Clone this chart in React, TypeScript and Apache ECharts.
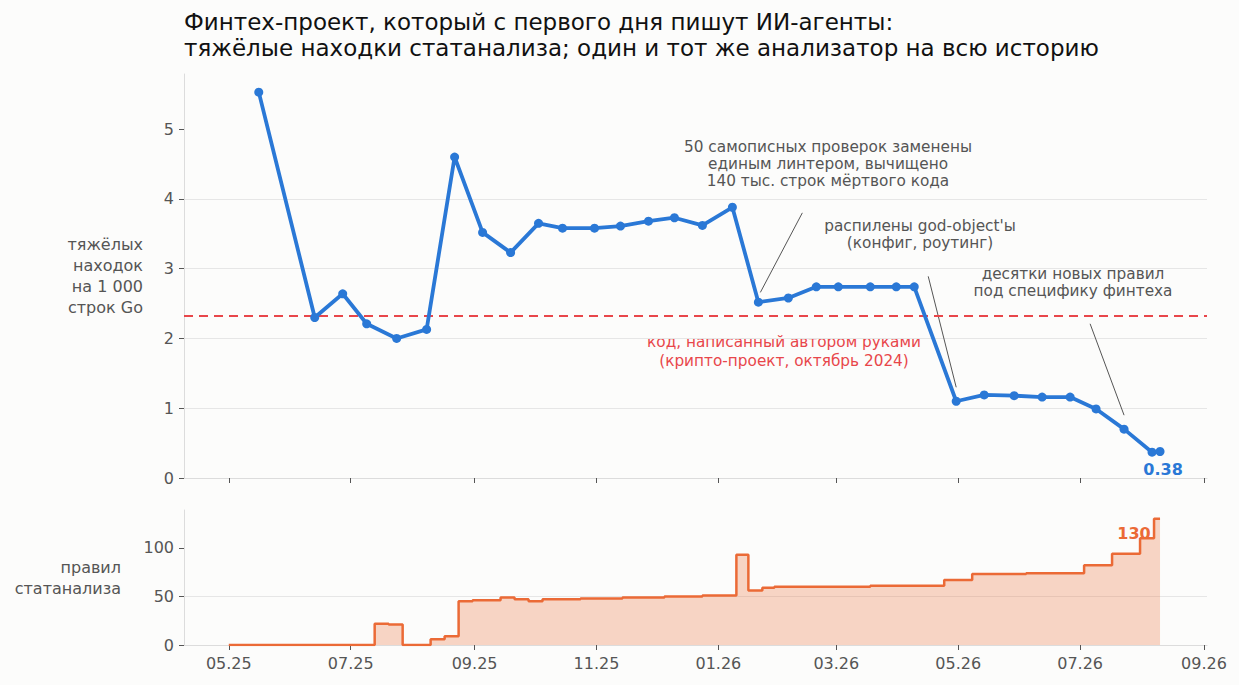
import React, { useEffect, useRef } from 'react';
import * as echarts from 'echarts';

// --- data ---
const tickLabels = ['05.25', '07.25', '09.25', '11.25', '01.26', '03.26', '05.26', '07.26', '09.26'];

const findingDates = [
  '2025-05-16', '2025-06-13', '2025-06-27', '2025-07-09', '2025-07-24', '2025-08-08',
  '2025-08-22', '2025-09-05', '2025-09-19', '2025-10-03', '2025-10-15', '2025-10-31',
  '2025-11-13', '2025-11-27', '2025-12-10', '2025-12-24', '2026-01-08', '2026-01-21',
  '2026-02-05', '2026-02-19', '2026-03-02', '2026-03-18', '2026-03-31', '2026-04-09',
  '2026-04-30', '2026-05-14', '2026-05-29', '2026-06-12', '2026-06-26', '2026-07-09',
  '2026-07-23', '2026-08-06', '2026-08-10',
];
const findingValues = [
  5.53, 2.3, 2.64, 2.21, 2.0, 2.13,
  4.6, 3.52, 3.23, 3.65, 3.58, 3.58,
  3.61, 3.68, 3.73, 3.62, 3.88, 2.52,
  2.58, 2.74, 2.74, 2.74, 2.74, 2.74,
  1.1, 1.19, 1.18, 1.16, 1.16, 0.99,
  0.7, 0.37, 0.38,
];

const ruleDates = [
  '2025-05-01', '2025-07-13', '2025-07-20', '2025-07-27', '2025-08-10', '2025-08-17',
  '2025-08-24', '2025-08-31', '2025-09-14', '2025-09-21', '2025-09-28', '2025-10-05',
  '2025-10-24', '2025-11-14', '2025-12-05', '2025-12-24', '2026-01-10', '2026-01-16',
  '2026-01-23', '2026-01-29', '2026-03-18', '2026-04-24', '2026-05-08', '2026-06-04',
  '2026-07-03', '2026-07-17', '2026-07-31', '2026-08-07', '2026-08-10',
];
const ruleValues = [
  0, 22, 21, 0, 6, 9,
  45, 46, 49, 47, 45, 47,
  48, 49, 50, 51, 93, 56,
  59, 60, 61, 67, 73, 74,
  82, 94, 110, 130, 130,
];

// hand-written crypto project, Oct 2024
const baseline = 2.33;

// annotation pointers: [date, value] from -> to
const pointerFrom: [string, number][] = [['2026-01-22', 2.66], ['2026-04-16', 2.89], ['2026-07-06', 2.21]];
const pointerTo: [string, number][] = [['2026-02-12', 3.8], ['2026-04-30', 1.3], ['2026-07-23', 0.9]];

const BLUE = '#2a78d6';
const ORANGE = '#eb6a36';
const RED = '#e8464a';
const GREY = '#555555';
const FONT = 'DejaVu Sans';

const day = (s: string) => {
  const [y, m, d] = s.split('-').map(Number);
  return new Date(y, m - 1, d).getTime();
};
const tickTime = (s: string) => {
  const [mm, yy] = s.split('.').map(Number);
  return new Date(2000 + yy, mm - 1, 1).getTime();
};

export default function App() {
  const ref = useRef<HTMLDivElement>(null);

  useEffect(() => {
    if (!ref.current) return;
    const chart = echarts.init(ref.current, null, { renderer: 'svg' });

    const ticks = tickLabels.map(tickTime);
    const labelOf = (v: number) => {
      const i = ticks.findIndex((t) => Math.abs(t - v) < 3600e3);
      return i >= 0 ? tickLabels[i] : '';
    };
    const xMin = new Date(2025, 3, 8, 14).getTime();
    const xMax = new Date(2026, 8, 2, 12).getTime();

    const findings = findingDates.map((d, i) => [day(d), findingValues[i]]);
    const rules = ruleDates.map((d, i) => [day(d), ruleValues[i]]);
    const lastF = findings[findings.length - 1];
    const lastR = rules[rules.length - 1];

    const xAxisBase = (gridIndex: number, showLabel: boolean) => ({
      type: 'value' as const,
      gridIndex,
      min: xMin,
      max: xMax,
      axisLine: { show: true, lineStyle: { color: '#dcdcdc', width: 1 } },
      axisTick: { show: true, customValues: ticks, length: 5, lineStyle: { color: GREY } },
      axisLabel: {
        show: showLabel,
        customValues: ticks,
        formatter: (v: number) => labelOf(v),
        fontSize: 16,
        color: GREY,
        margin: 10,
        fontFamily: FONT,
      },
      splitLine: { show: false },
    });

    const yAxisBase = (gridIndex: number, max: number, interval: number, vals: number[]) => ({
      type: 'value' as const,
      gridIndex,
      min: 0,
      max,
      interval,
      axisLine: { show: true, lineStyle: { color: '#dcdcdc', width: 1 } },
      axisTick: { show: true, customValues: vals, length: 5, lineStyle: { color: GREY } },
      axisLabel: { customValues: vals, fontSize: 16, color: GREY, margin: 10, fontFamily: FONT },
      splitLine: { show: true, showMinLine: false, showMaxLine: false, lineStyle: { color: '#e6e6e6', width: 1 } },
    });

    const annText = (x: number, y: number, text: string, color: string, lh: number) => ({
      type: 'text',
      x,
      y,
      style: {
        text,
        fill: color,
        font: `15.3px "${FONT}"`,
        align: 'center',
        verticalAlign: 'middle',
        lineHeight: lh,
      },
    });

    const option = {
      animation: false,
      backgroundColor: '#fcfcfb',
      textStyle: { fontFamily: FONT },
      title: {
        left: 184,
        top: 9,
        padding: 0,
        text:
          'Финтех-проект, который с первого дня пишут ИИ-агенты:\nтяжёлые находки статанализа; один и тот же анализатор на всю историю',
        textStyle: { fontSize: 23, lineHeight: 26, fontWeight: 'normal', color: '#111', fontFamily: FONT },
      },
      grid: [
        { left: 184, right: 32, top: 74, height: 404 },
        { left: 184, right: 32, top: 510, height: 135 },
      ],
      xAxis: [xAxisBase(0, false), xAxisBase(1, true)],
      yAxis: [yAxisBase(0, 5.79, 1, [0, 1, 2, 3, 4, 5]), yAxisBase(1, 139, 50, [0, 50, 100])],
      graphic: [
        annText(828, 164, '50 самописных проверок заменены\nединым линтером, вычищено\n140 тыс. строк мёртвого кода', GREY, 17),
        annText(920, 234, "распилены god-object'ы\n(конфиг, роутинг)", GREY, 17),
        annText(1073, 282, 'десятки новых правил\nпод специфику финтеха', GREY, 17),
        annText(784, 351, 'код, написанный автором руками\n(крипто-проект, октябрь 2024)', RED, 19),
        {
          type: 'text',
          x: 143,
          y: 276,
          style: {
            text: 'тяжёлых\nнаходок\nна 1 000\nстрок Go',
            fill: GREY,
            font: `16px "${FONT}"`,
            align: 'right',
            verticalAlign: 'middle',
            lineHeight: 20.7,
          },
        },
        {
          type: 'text',
          x: 121,
          y: 578,
          style: {
            text: 'правил\nстатанализа',
            fill: GREY,
            font: `16px "${FONT}"`,
            align: 'right',
            verticalAlign: 'middle',
            lineHeight: 21,
          },
        },
      ],
      series: [
        {
          type: 'line',
          xAxisIndex: 0,
          yAxisIndex: 0,
          data: findings,
          color: BLUE,
          lineStyle: { width: 3.8, color: BLUE },
          symbol: 'circle',
          symbolSize: 9,
          itemStyle: { color: BLUE },
          z: 5,
          markLine: {
            silent: true,
            symbol: ['none', 'none'],
            label: { show: false },
            lineStyle: { color: GREY, width: 1, type: 'solid' },
            data: [
              ...pointerFrom.map((p, i) => [
                { coord: [day(p[0]), p[1]] },
                { coord: [day(pointerTo[i][0]), pointerTo[i][1]] },
              ]),
              { yAxis: baseline, lineStyle: { color: RED, width: 2, type: [9, 6] } },
            ],
          },
          markPoint: {
            silent: true,
            symbol: 'circle',
            symbolSize: 1,
            itemStyle: { color: 'rgba(0,0,0,0)' },
            data: [
              {
                coord: lastF,
                label: {
                  show: true,
                  position: 'inside',
                  offset: [3, 18],
                  formatter: lastF[1].toFixed(2),
                  color: BLUE,
                  fontWeight: 'bold',
                  fontSize: 16,
                  fontFamily: FONT,
                },
              },
            ],
          },
        },
        {
          type: 'line',
          xAxisIndex: 1,
          yAxisIndex: 1,
          data: rules,
          step: 'end',
          showSymbol: false,
          color: ORANGE,
          lineStyle: { width: 2.5, color: ORANGE },
          areaStyle: { color: ORANGE, opacity: 0.28 },
          markPoint: {
            silent: true,
            symbol: 'circle',
            symbolSize: 1,
            itemStyle: { color: 'rgba(0,0,0,0)' },
            data: [
              {
                coord: lastR,
                label: {
                  show: true,
                  position: 'inside',
                  offset: [-26, 15],
                  formatter: String(lastR[1]),
                  color: ORANGE,
                  fontWeight: 'bold',
                  fontSize: 16,
                  fontFamily: FONT,
                },
              },
            ],
          },
        },
      ],
    };

    chart.setOption(option as any);
    return () => chart.dispose();
  }, []);

  return (
    <div
      ref={ref}
      style={{ position: 'fixed', left: 0, top: 0, width: 1239, height: 685 }}
    />
  );
}
